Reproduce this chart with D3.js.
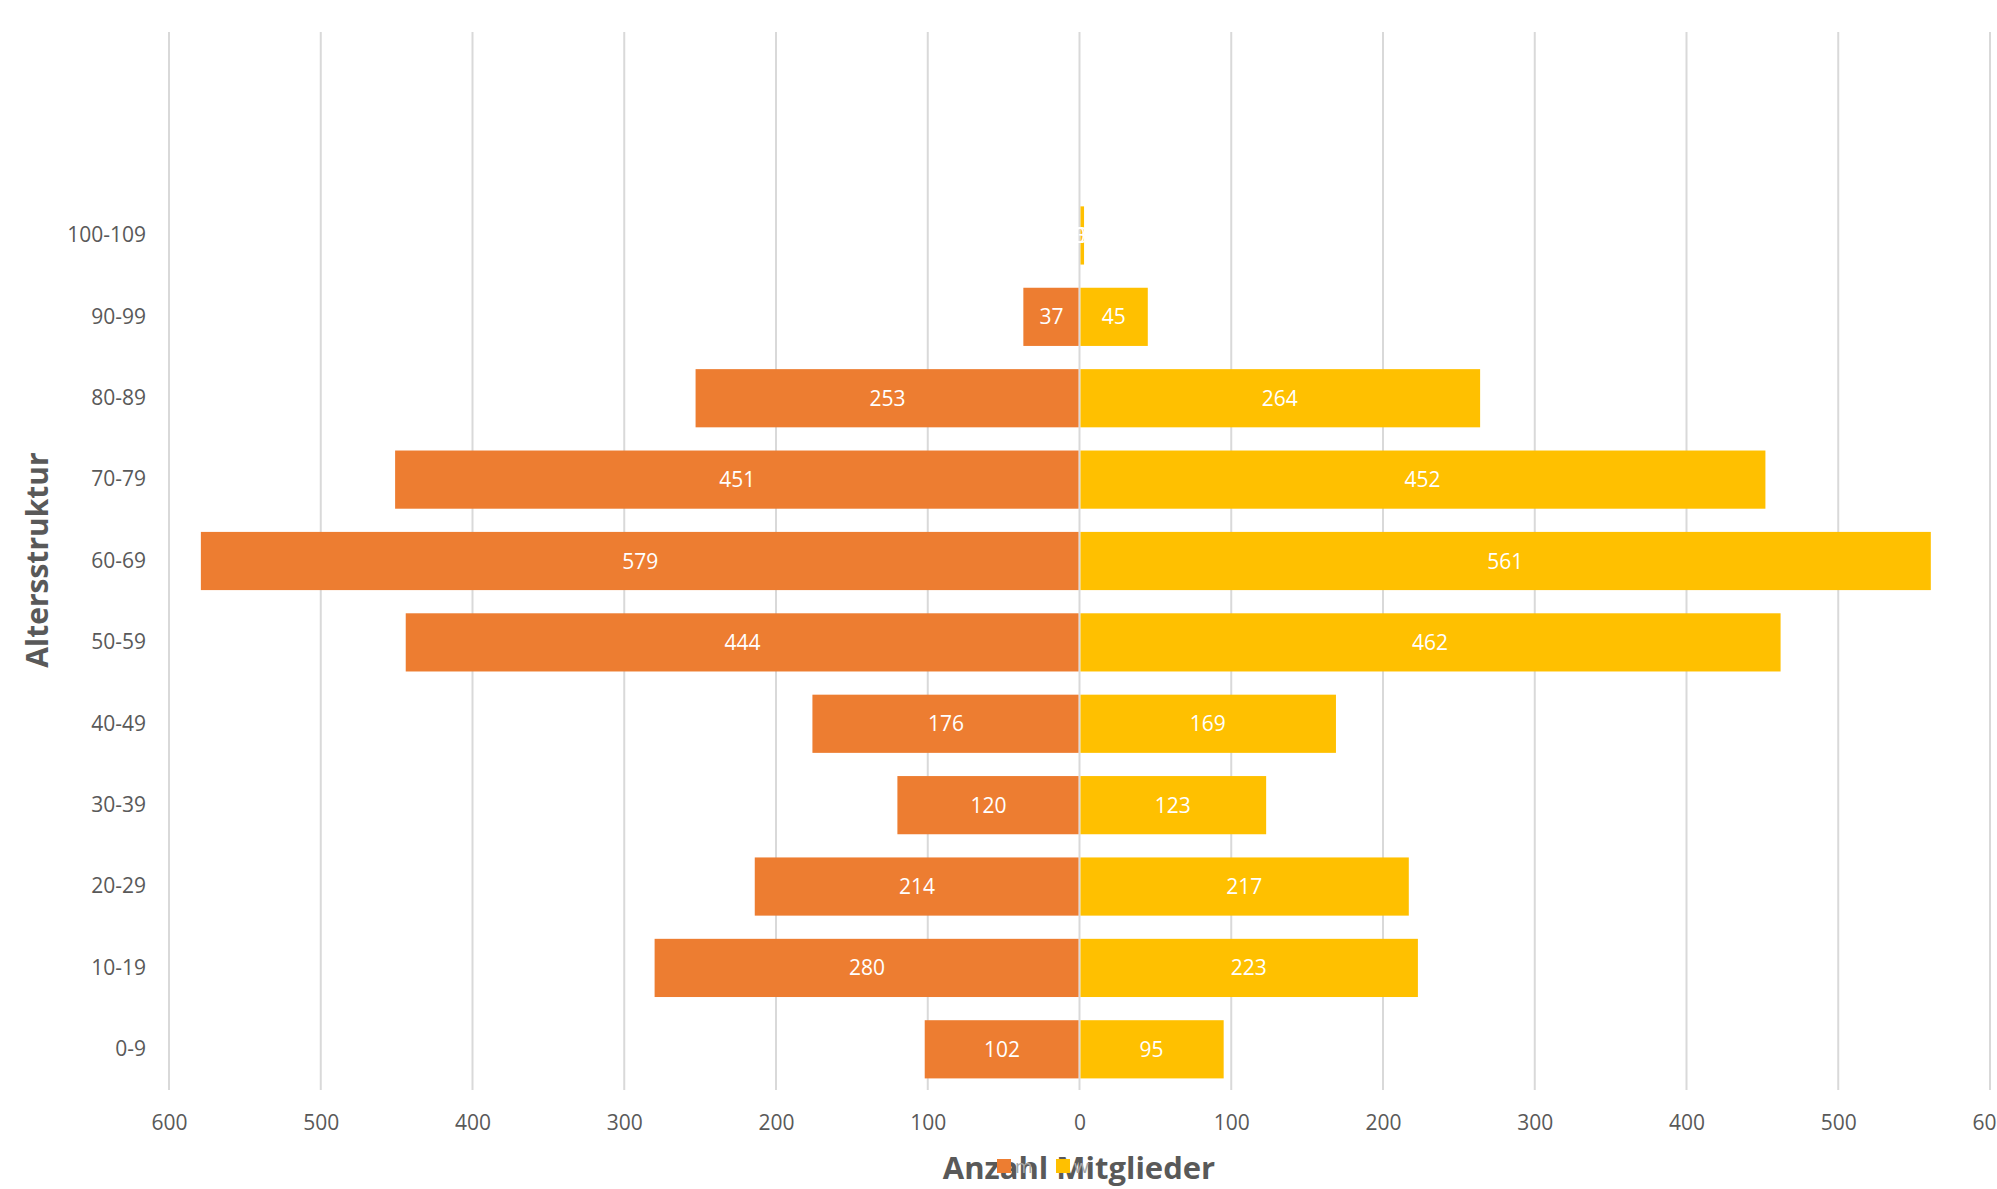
<!DOCTYPE html>
<html><head><meta charset="utf-8">
<script src="https://cdn.jsdelivr.net/npm/d3@7"></script>
<style>html,body{margin:0;padding:0;background:#fff;overflow:hidden}</style>
</head><body>
<svg id="c" width="1997" height="1189"></svg>
<script>
const categories = ["0-9","10-19","20-29","30-39","40-49","50-59","60-69","70-79","80-89","90-99","100-109"];
const maleValues = [102,280,214,120,176,444,579,451,253,37,0];
const femaleValues = [95,223,217,123,169,462,561,452,264,45,3];
const xTicks = [-600,-500,-400,-300,-200,-100,0,100,200,300,400,500,600];
const seriesNames = ["m","w"];
const colors = {m:"#ED7D31", w:"#FFC000"};
const textColor = "#595959", gridColor = "#d9d9d9";
const font = "'Open Sans', sans-serif";

const svg = d3.select("#c");
const pTop = 32, pBottom = 1090, pLeft = 169, pRight = 1990;
const step = (pBottom - pTop) / 13;
const x = d3.scaleLinear().domain([-600,600]).range([pLeft,pRight]);
const y = d3.scaleBand().domain(categories).range([pBottom, pTop + 2*step]).paddingInner(0.285).paddingOuter(0.1425);

// gridlines
svg.append("g").selectAll("line").data(xTicks).join("line")
  .attr("x1",d=>x(d)).attr("x2",d=>x(d)).attr("y1",pTop).attr("y2",pBottom)
  .attr("stroke",gridColor).attr("stroke-width",2);

// bars
const rows = categories.map((c,i)=>({c, m:maleValues[i], w:femaleValues[i]}));
const g = svg.append("g");
g.selectAll("rect.m").data(rows).join("rect").attr("class","m")
  .attr("x",d=>x(-d.m)).attr("width",d=>Math.max(0,x(0)-x(-d.m)-1))
  .attr("y",d=>y(d.c)).attr("height",y.bandwidth()).attr("fill",colors.m);
g.selectAll("rect.w").data(rows).join("rect").attr("class","w")
  .attr("x",x(0)+1).attr("width",d=>Math.max(0,x(d.w)-x(0)-1))
  .attr("y",d=>y(d.c)).attr("height",y.bandwidth()).attr("fill",colors.w);

// value labels
g.selectAll("text.lm").data(rows).join("text").attr("class","lm")
  .attr("x",d=>(x(-d.m)+x(0))/2).attr("y",d=>y(d.c)+y.bandwidth()/2)
  .attr("dy","0.36em").attr("text-anchor","middle").attr("fill","#fff")
  .style("font-family",font).style("font-size","21px").text(d=>d.m);
g.selectAll("text.lw").data(rows).join("text").attr("class","lw")
  .attr("x",d=>(x(d.w)+x(0))/2).attr("y",d=>y(d.c)+y.bandwidth()/2)
  .attr("dy","0.36em").attr("text-anchor","middle").attr("fill","#fff")
  .style("font-family",font).style("font-size","21px").text(d=>d.w);

// x axis labels
const xAxis = d3.axisBottom(x).tickValues(xTicks).tickSize(0).tickPadding(0).tickFormat(d=>Math.abs(d));
const xa = svg.append("g").attr("transform",`translate(0,${1122})`).call(xAxis);
xa.select(".domain").remove();
xa.selectAll("text").attr("dy","0.36em").attr("y",0).attr("fill",textColor)
  .style("font-family",font).style("font-size","21px");

// y axis labels
const yAxis = d3.axisLeft(y).tickSize(0).tickPadding(0);
const ya = svg.append("g").attr("transform",`translate(146,0)`).call(yAxis);
ya.select(".domain").remove();
ya.selectAll("text").attr("fill",textColor).style("font-family",font).style("font-size","21px");

// axis titles
svg.append("text").attr("x",1079).attr("y",1179).attr("text-anchor","middle").attr("fill",textColor)
  .style("font-family",font).style("font-size","31px").style("font-weight","bold").text("Anzahl Mitglieder");
svg.append("text").attr("transform","translate(48,560) rotate(-90)").attr("text-anchor","middle").attr("fill",textColor)
  .style("font-family",font).style("font-size","30px").style("font-weight","bold").text("Altersstruktur");

// legend (drawn over the x-axis title, as in the original)
const lg = svg.append("g");
const legX = [997, 1056];
seriesNames.forEach((s,i)=>{
  lg.append("rect").attr("x",legX[i]).attr("y",1159).attr("width",14).attr("height",14).attr("fill",colors[s]);
  lg.append("text").attr("x",legX[i]+18).attr("y",1166).attr("dy","0.36em").attr("fill","#a6a6a6")
    .style("font-family",font).style("font-size","19px").text(s);
});
</script>
</body></html>
